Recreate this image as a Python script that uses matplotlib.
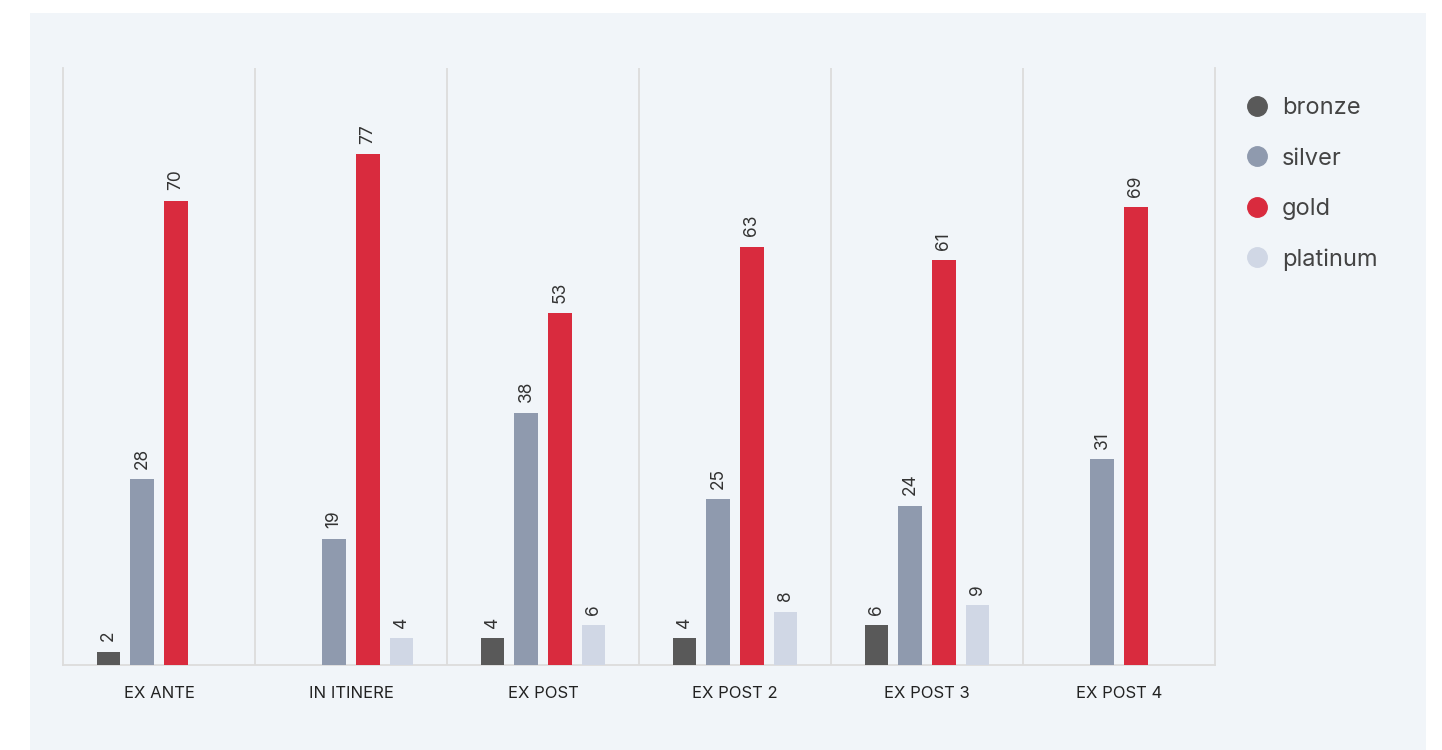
import numpy as np
import matplotlib
matplotlib.use("Agg")
import matplotlib.pyplot as plt
from matplotlib.patches import Rectangle
from matplotlib.lines import Line2D

plt.rcParams["font.family"] = ["Inter", "DejaVu Sans"]

categories = ["EX ANTE", "IN ITINERE", "EX POST", "EX POST 2", "EX POST 3", "EX POST 4"]
series_names = ["bronze", "silver", "gold", "platinum"]
bronze = [2, None, 4, 4, 6, None]
silver = [28, 19, 38, 25, 24, 31]
gold = [70, 77, 53, 63, 61, 69]
platinum = [None, 4, 6, 8, 9, None]
colors = ["#595959", "#8f9aae", "#d92b3e", "#d0d7e5"]

W, H = 1442, 750
fig = plt.figure(figsize=(W / 100, H / 100), dpi=100)
fig.patch.set_facecolor("white")
fig.patches.append(Rectangle((30 / W, 0), (1426 - 30) / W, (750 - 13) / H,
                             transform=fig.transFigure, facecolor="#f1f5f9",
                             edgecolor="none", zorder=-10))

ax = fig.add_axes([63 / W, 1 - 665 / H, (1215 - 63) / W, (665 - 68) / H])
ax.set_facecolor("none")

x = np.arange(len(categories))
step = 0.177
width = 0.12
for i, (vals, col) in enumerate(zip([bronze, silver, gold, platinum], colors)):
    offs = (i - 1.5) * step
    for xi, v in zip(x, vals):
        if v is None:
            continue
        ax.bar(xi + offs, v, width=width, color=col, zorder=3)
        ax.text(xi + offs, v + 1.6, str(v), rotation=90, ha="center", va="bottom",
                fontsize=12.5, color="#333333")

ax.set_xlim(-0.5, len(categories) - 0.5)
ax.set_ylim(0, 90)
for b in np.arange(0.5, len(categories) - 1, 1.0):
    ax.axvline(b, color="#dcdcdc", lw=1.3, zorder=1)
ax.set_yticks([])
ax.set_xticks(x)
ax.set_xticklabels(categories, fontsize=12, color="#222222")
ax.tick_params(axis="x", length=0, pad=15)
ax.spines["top"].set_visible(False)
for s in ["left", "right", "bottom"]:
    ax.spines[s].set_color("#dcdcdc")
    ax.spines[s].set_linewidth(1.3)

handles = [Line2D([], [], marker="o", linestyle="none", markersize=14,
                  markerfacecolor=c, markeredgecolor=c) for c in colors]
fig.legend(handles, series_names, loc="upper left",
           bbox_to_anchor=(1222 / W, 1 - 76 / H), frameon=False,
           fontsize=17, labelcolor="#444444", handletextpad=0.45,
           labelspacing=1.2, handlelength=1.2)

fig.savefig("out.png", dpi=100)
